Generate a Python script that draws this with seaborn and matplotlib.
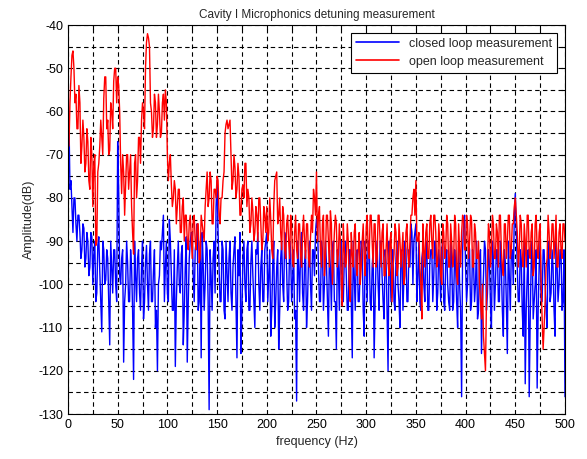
import numpy as np
import pandas as pd
import matplotlib
matplotlib.use("Agg")
import matplotlib.pyplot as plt
import seaborn as sns

# frequency grids (Hz): even and odd bins
freq_even = np.arange(0, 501, 2)
freq_odd = np.arange(1, 500, 2)

# open loop spectrum (dB)
open_loop_even = [
    -62, -58, -47, -50, -56, -64, -58, -68, -66, -72,
    -67, -78, -70, -72, -91, -74, -68, -66, -57, -52,
    -62, -69, -60, -53, -50, -52, -60, -79, -74, -77,
    -70, -74, -82, -93, -70, -76, -66, -62, -60, -50,
    -42, -45, -60, -64, -58, -63, -60, -65, -56, -55,
    -70, -72, -77, -80, -78, -82, -78, -88, -80, -84,
    -90, -86, -89, -85, -90, -86, -95, -84, -88, -82,
    -74, -80, -76, -86, -78, -75, -84, -80, -76, -65,
    -62, -63, -70, -76, -73, -78, -75, -84, -77, -72,
    -82, -80, -86, -83, -88, -84, -80, -86, -90, -84,
    -82, -88, -85, -94, -76, -74, -84, -88, -82, -92,
    -86, -90, -84, -95, -88, -92, -86, -93, -88, -90,
    -86, -94, -89, -88, -80, -74, -84, -92, -86, -98,
    -84, -90, -83, -100, -88, -86, -93, -90, -105, -92,
    -95, -90, -104, -93, -88, -96, -92, -100, -90, -94,
    -87, -92, -84, -90, -86, -96, -84, -90, -88, -98,
    -92, -95, -90, -104, -93, -88, -96, -90, -92, -100,
    -88, -93, -90, -84, -78, -76, -90, -96, -108, -92,
    -88, -94, -86, -90, -84, -88, -95, -90, -100, -88,
    -92, -86, -96, -90, -94, -86, -100, -92, -88, -85,
    -92, -86, -90, -85, -96, -88, -94, -100, -108, -112,
    -120, -96, -88, -92, -86, -94, -88, -84, -92, -98,
    -86, -90, -84, -92, -86, -80, -88, -92, -86, -96,
    -90, -84, -93, -88, -98, -86, -92, -88, -100, -115,
    -104, -94, -88, -92, -86, -90, -96, -88, -92, -86,
    -90,
]
open_loop_odd = [
    -68, -52, -46, -58, -64, -54, -72, -62, -74, -64,
    -76, -66, -82, -70, -90, -72, -62, -70, -52, -64,
    -70, -58, -64, -50, -58, -54, -72, -70, -84, -70,
    -78, -70, -88, -72, -80, -66, -72, -58, -64, -44,
    -43, -58, -66, -56, -66, -56, -66, -58, -62, -58,
    -76, -70, -82, -76, -86, -78, -88, -82, -90, -84,
    -92, -84, -94, -84, -92, -86, -94, -86, -90, -78,
    -82, -74, -86, -78, -80, -76, -86, -80, -74, -63,
    -64, -62, -78, -70, -80, -72, -84, -78, -80, -72,
    -78, -88, -80, -90, -82, -90, -80, -92, -82, -88,
    -90, -80, -92, -82, -75, -86, -80, -92, -84, -94,
    -84, -94, -86, -96, -84, -94, -86, -96, -84, -94,
    -86, -96, -84, -78, -84, -90, -82, -96, -84, -94,
    -84, -96, -86, -94, -84, -96, -86, -100, -86, -96,
    -86, -100, -88, -96, -86, -98, -88, -96, -86, -98,
    -84, -94, -84, -96, -86, -94, -84, -96, -86, -98,
    -86, -98, -88, -96, -86, -98, -86, -96, -88, -98,
    -86, -96, -84, -80, -84, -90, -88, -100, -86, -96,
    -86, -94, -84, -94, -84, -96, -86, -98, -86, -94,
    -84, -96, -86, -96, -84, -98, -86, -96, -84, -92,
    -84, -94, -84, -96, -86, -94, -90, -104, -100, -116,
    -104, -86, -96, -84, -94, -86, -96, -84, -96, -86,
    -94, -84, -94, -86, -82, -84, -96, -84, -94, -86,
    -96, -84, -94, -86, -96, -84, -94, -86, -108, -110,
    -96, -84, -94, -86, -94, -84, -96, -86, -94, -86,
]

# closed loop spectrum (dB)
closed_loop_even = [
    -56, -78, -82, -80, -86, -84, -88, -92, -87, -94,
    -90, -96, -89, -93, -104, -91, -97, -111, -92, -99,
    -94, -114, -96, -92, -100, -67, -98, -94, -118, -100,
    -95, -104, -96, -122, -98, -94, -102, -96, -108, -95,
    -100, -93, -104, -97, -110, -120, -98, -92, -84, -96,
    -102, -85, -98, -106, -119, -96, -100, -93, -114, -96,
    -118, -94, -88, -98, -92, -86, -104, -117, -95, -100,
    -92, -129, -98, -94, -102, -76, -96, -104, -92, -108,
    -97, -94, -102, -96, -89, -117, -98, -116, -94, -100,
    -92, -106, -95, -98, -110, -93, -100, -96, -104, -92,
    -88, -98, -112, -95, -110, -96, -115, -94, -100, -88,
    -97, -104, -93, -99, -108, -127, -96, -92, -102, -95,
    -110, -94, -100, -92, -98, -85, -96, -104, -92, -100,
    -95, -112, -96, -92, -104, -115, -96, -90, -102, -94,
    -98, -106, -92, -117, -98, -93, -104, -96, -92, -112,
    -95, -90, -104, -96, -117, -94, -100, -90, -98, -108,
    -95, -120, -96, -92, -104, -94, -100, -110, -93, -98,
    -92, -104, -96, -88, -90, -86, -98, -104, -94, -100,
    -92, -106, -95, -92, -98, -93, -102, -96, -92, -104,
    -95, -100, -106, -94, -104, -96, -110, -100, -126, -86,
    -96, -100, -92, -104, -95, -100, -108, -94, -116, -98,
    -92, -102, -95, -110, -94, -100, -92, -104, -96, -112,
    -95, -116, -98, -92, -100, -79, -96, -104, -94, -112,
    -123, -98, -126, -95, -108, -100, -124, -96, -104, -92,
    -100, -110, -94, -102, -96, -112, -95, -100, -92, -104,
    -126,
]
closed_loop_odd = [
    -62, -76, -88, -80, -90, -84, -94, -86, -96, -88,
    -98, -88, -100, -90, -102, -89, -104, -90, -100, -92,
    -104, -90, -102, -92, -104, -78, -100, -92, -104, -90,
    -104, -92, -106, -90, -104, -92, -106, -90, -104, -91,
    -106, -90, -104, -92, -106, -100, -90, -88, -104, -90,
    -104, -90, -106, -92, -104, -90, -102, -91, -106, -89,
    -104, -90, -88, -104, -90, -106, -90, -88, -106, -90,
    -104, -92, -106, -90, -82, -88, -104, -90, -106, -90,
    -104, -90, -106, -92, -104, -92, -88, -106, -90, -104,
    -90, -106, -90, -104, -92, -88, -106, -92, -104, -90,
    -104, -92, -106, -90, -104, -92, -106, -90, -104, -90,
    -106, -90, -104, -92, -106, -90, -104, -88, -106, -92,
    -104, -90, -106, -92, -88, -86, -104, -90, -106, -90,
    -104, -92, -106, -90, -104, -92, -106, -90, -104, -90,
    -106, -92, -104, -90, -106, -92, -104, -90, -106, -90,
    -104, -90, -106, -92, -104, -90, -106, -90, -104, -92,
    -106, -90, -104, -92, -106, -90, -104, -92, -106, -90,
    -104, -92, -86, -100, -88, -104, -90, -106, -92, -104,
    -90, -106, -92, -104, -90, -106, -92, -104, -90, -106,
    -92, -104, -90, -106, -92, -104, -90, -106, -92, -84,
    -104, -90, -106, -92, -104, -90, -106, -92, -104, -90,
    -106, -92, -104, -90, -106, -92, -104, -90, -106, -92,
    -104, -90, -106, -92, -84, -88, -104, -92, -106, -90,
    -106, -92, -108, -90, -104, -92, -106, -90, -104, -92,
    -106, -90, -104, -92, -106, -90, -104, -92, -106, -92,
]

labels = ["closed loop measurement", "open loop measurement"]
colors = ["#0000ff", "#ff0000"]

df = pd.concat([
    pd.DataFrame({"freq": freq_even, "amp": closed_loop_even, "series": labels[0]}),
    pd.DataFrame({"freq": freq_odd, "amp": closed_loop_odd, "series": labels[0]}),
    pd.DataFrame({"freq": freq_even, "amp": open_loop_even, "series": labels[1]}),
    pd.DataFrame({"freq": freq_odd, "amp": open_loop_odd, "series": labels[1]}),
]).sort_values(["series", "freq"])

sns.set_style("white")
plt.rcParams["font.family"] = ["Liberation Sans", "DejaVu Sans"]

fig = plt.figure(figsize=(5.87, 4.59), dpi=100)
ax = fig.add_axes([0.1158, 0.098, 0.8467, 0.8475])

sns.lineplot(data=df, x="freq", y="amp", hue="series", hue_order=labels,
             palette=dict(zip(labels, colors)), estimator=None,
             linewidth=1.0, ax=ax)

ax.set_xlim(0, 500)
ax.set_ylim(-130, -40)
xt = np.arange(0, 501, 25)
yt = np.arange(-130, -39, 5)
ax.set_xticks(xt)
ax.set_xticklabels([str(v) if v % 50 == 0 else "" for v in xt])
ax.set_yticks(yt)
ax.set_yticklabels([str(v) if v % 10 == 0 else "" for v in yt])
ax.tick_params(direction="in", top=True, right=True, length=3, width=0.8,
               labelsize=9, colors="black")
ax.grid(True, color="black", linestyle=(0, (4, 3)), linewidth=0.8)
for s in ax.spines.values():
    s.set_color("black")
    s.set_linewidth(0.8)

ax.set_title("Cavity I Microphonics detuning measurement", fontsize=8.5, pad=5)
ax.set_xlabel("frequency (Hz)", fontsize=9)
ax.set_ylabel("Amplitude(dB)", fontsize=9, labelpad=2)

leg = ax.legend(loc="upper right", fontsize=9, fancybox=False, framealpha=1,
                edgecolor="black", handlelength=3.5, borderaxespad=0.6)
leg.get_frame().set_linewidth(0.8)
for line in leg.get_lines():
    line.set_linewidth(1.2)

fig.savefig("out.png", dpi=100)
